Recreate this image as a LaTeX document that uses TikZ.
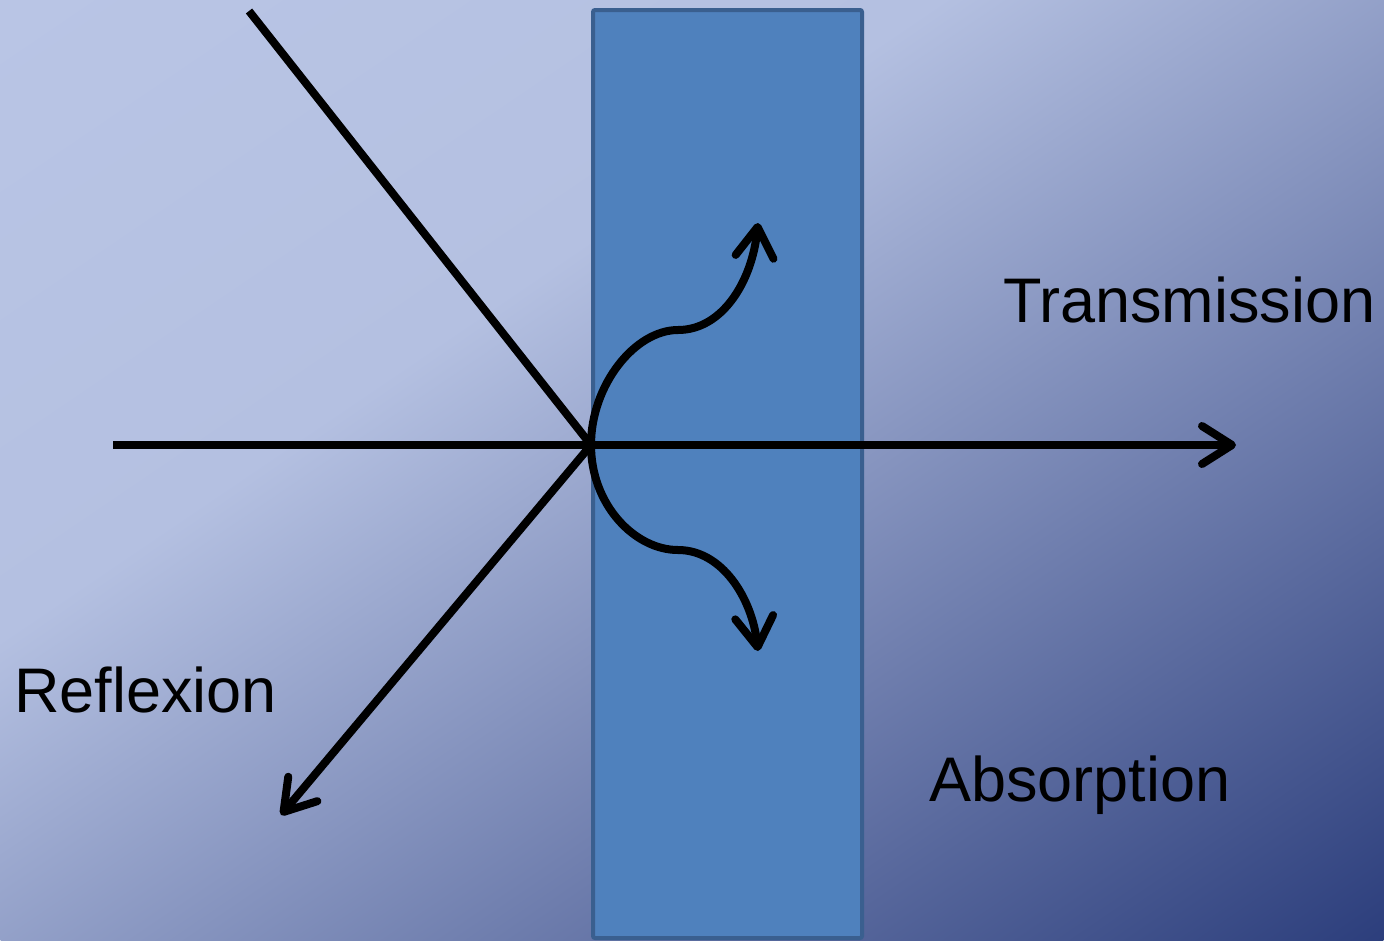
\documentclass[tikz,border=0pt]{standalone}
\usepackage{fontspec}
\setmainfont{Liberation Sans}
\usetikzlibrary{arrows.meta}
\definecolor{bgA}{HTML}{B9C5E5}
\definecolor{bgB}{HTML}{B4C0E1}
\definecolor{bgC}{HTML}{2C3E7C}
\definecolor{slabfill}{HTML}{4F81BD}
\definecolor{slabedge}{HTML}{3A5F8F}
\pgfdeclarehorizontalshading{bgshade}{100bp}{color(0bp)=(bgA); color(25bp)=(bgA); color(42bp)=(bgB); color(75bp)=(bgC); color(100bp)=(bgC)}
\tikzset{
  ray/.style={line width=8pt, black},
  rayarrow/.style={ray, -{Straight Barb[length=30pt, width=38pt, line cap=round, line join=round]}},
  label/.style={inner sep=0pt, anchor=base west, font=\fontsize{63}{70}\selectfont},
  slab/.style={fill=slabfill, draw=slabedge, line width=4pt, rounded corners=2pt}
}
\begin{document}
\begin{tikzpicture}[x=1pt, y=-1pt]
\useasboundingbox (0,0) rectangle (1384,940);
\begin{scope}
  \clip (0,0) rectangle (1384,940);
  \shade[shading=bgshade, transform canvas={cm={13.84,-9.4,13.84,9.4,(-692pt,-470pt)}}] (0pt,0pt) rectangle (100pt,100pt);
\end{scope}
\node[slab, minimum width=269pt, minimum height=928pt, anchor=north west, inner sep=0pt, outer sep=0pt] (slab) at (593,10) {};
\coordinate (hit) at (591,445);
\coordinate (incstart) at (249,11);
\coordinate (hstart) at (113,445);
\coordinate (htip) at (1236,445);
\coordinate (rtip) at (281,815);
\coordinate (upmid) at (678,330);
\coordinate (uptip) at (758,223);
\coordinate (dnmid) at (678,550);
\coordinate (dntip) at (758,651);
\draw[ray] (incstart) -- (hit);
\draw[rayarrow] (hstart) -- (htip);
\draw[rayarrow] (hit) -- (rtip);
\draw[rayarrow] (hit) .. controls (591,385) and (635,330) .. (upmid)
  .. controls (722,330) and (752,282) .. (uptip);
\draw[rayarrow] (hit) .. controls (591,505) and (635,550) .. (dnmid)
  .. controls (722,550) and (752,598) .. (dntip);
\node[label] (trans) at (1003,322) {Transmission};
\node[label] (refl) at (14,712) {Reflexion};
\node[label] (abs) at (929,801) {Absorption};
\end{tikzpicture}
\end{document}
